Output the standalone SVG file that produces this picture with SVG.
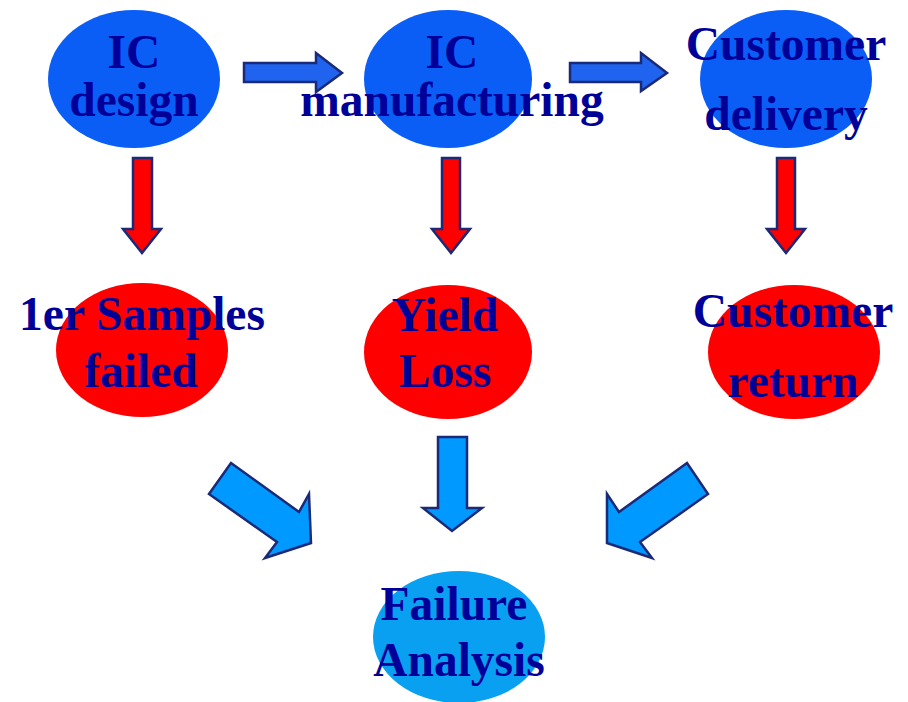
<svg xmlns="http://www.w3.org/2000/svg" width="908" height="702" viewBox="0 0 908 702">
  <style>
    .lbl { font-family: "Liberation Serif", "Times New Roman", serif; font-weight: bold; font-size: 47.5px; fill: #000099; text-anchor: middle; }
    .stage { fill: #0a5ef6; }
    .issue { fill: #ff0000; }
    .fa { fill: #0aa0f2; }
    .flow { fill: #1f63ee; stroke: #1a2a78; stroke-width: 2.5; stroke-linejoin: miter; }
    .down { fill: #ff0000; stroke: #1a2a78; stroke-width: 2.5; }
    .merge { fill: #0099ff; stroke: #1a2a78; stroke-width: 2.5; }
  </style>
  <rect width="908" height="702" fill="#ffffff"/>

  <!-- connectors -->
  <g id="connectors">
    <polygon class="flow" points="244,63 316,63 316,53 342,73 316,92 316,82 244,82"/>
    <polygon class="flow" points="570,63 641,63 641,53 667,73 641,91 641,82 570,82"/>
    <polygon class="down" points="133,158 152,158 152,229 161,229 142,253 123,229 133,229"/>
    <polygon class="down" points="442,158 460,158 460,229 470,229 451,253 432,229 442,229"/>
    <polygon class="down" points="777,158 795,158 795,229 805,229 786,253 767,229 777,229"/>
    <polygon class="merge" points="209,494 231,463 299,512 309,494 311,543 265,558 277,542"/>
    <polygon class="merge" points="438,437 467,437 467,508 482,508 452,531 423,508 438,508"/>
    <polygon class="merge" points="708,494 687,463 619,512 607,494 607,543 652,558 640,542"/>
  </g>

  <g id="ic-design">
    <ellipse class="stage" cx="134" cy="79" rx="86" ry="69"/>
    <text class="lbl" x="134" y="68">IC</text>
    <text class="lbl" x="134" y="116">design</text>
  </g>
  <g id="ic-manufacturing">
    <ellipse class="stage" cx="448" cy="79" rx="84" ry="69"/>
    <text class="lbl" x="452" y="68">IC</text>
    <text class="lbl" x="452" y="116">manufacturing</text>
  </g>
  <g id="customer-delivery">
    <ellipse class="stage" cx="786" cy="79" rx="86" ry="69"/>
    <text class="lbl" x="786" y="60">Customer</text>
    <text class="lbl" x="786" y="130">delivery</text>
  </g>

  <g id="first-samples-failed">
    <ellipse class="issue" cx="142" cy="350" rx="86" ry="67"/>
    <text class="lbl" x="142" y="330">1er Samples</text>
    <text class="lbl" x="141" y="387">failed</text>
  </g>
  <g id="yield-loss">
    <ellipse class="issue" cx="448" cy="352" rx="84" ry="67"/>
    <text class="lbl" x="445" y="331">Yield</text>
    <text class="lbl" x="445" y="387">Loss</text>
  </g>
  <g id="customer-return">
    <ellipse class="issue" cx="794" cy="352" rx="86" ry="67"/>
    <text class="lbl" x="793" y="327">Customer</text>
    <text class="lbl" x="793" y="397">return</text>
  </g>

  <g id="failure-analysis">
    <ellipse class="fa" cx="459" cy="637" rx="86" ry="66"/>
    <text class="lbl" x="454" y="620">Failure</text>
    <text class="lbl" x="459" y="676">Analysis</text>
  </g>
</svg>
